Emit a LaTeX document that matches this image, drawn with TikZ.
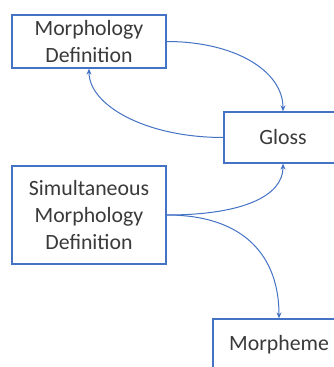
\documentclass[tikz,border=0pt]{standalone}
\usepackage{fontspec}
\setmainfont{Carlito}
\usetikzlibrary{arrows.meta}
\definecolor{bblue}{HTML}{4472C4}
\definecolor{tgray}{HTML}{3A3A3A}
\tikzset{
  box/.style={draw=bblue, line width=1.3pt, fill=white, align=center, text=tgray,
    font=\fontsize{21.8}{26.6}\selectfont, inner sep=0pt},
  conn/.style={draw=bblue, line width=1pt, -{Stealth[length=6pt,width=5pt]}}
}
\begin{document}
\begin{tikzpicture}[x=1pt,y=1pt]
\useasboundingbox (0,0) rectangle (334,367);
\clip (0,0) rectangle (334,367);
\fill[white] (0,0) rectangle (334,367);
\node[box, minimum width=154pt, minimum height=53pt] (md) at (89,325.5) {Morphology\\Definition};
\node[box, minimum width=118pt, minimum height=51pt] (gloss) at (283,229.5) {Gloss};
\node[box, minimum width=154pt, minimum height=98pt] (sim) at (89,152) {Simultaneous\\Morphology\\Definition};
\node[box, minimum width=132pt, minimum height=52pt] (morph) at (279,22) {Morpheme};
\draw[conn] (md.east) .. controls (235,325.5) and (283,296) .. (gloss.north);
\draw[conn] (gloss.west) .. controls (145,229.5) and (89,262) .. (md.south);
\draw[conn] (sim.east) .. controls (245,152) and (283,172) .. (gloss.south);
\draw[conn] (sim.east) .. controls (245,152) and (279,110) .. (morph.north);
\end{tikzpicture}
\end{document}
